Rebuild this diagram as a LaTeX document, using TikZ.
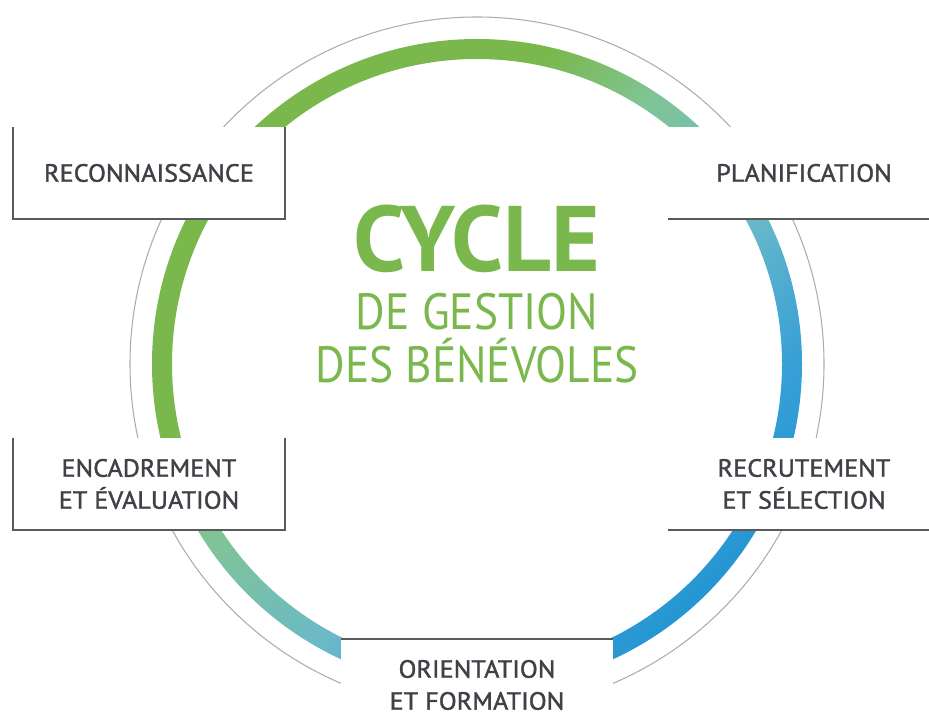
\documentclass[tikz,border=0pt]{standalone}
\usepackage{fontspec}
\setmainfont{PT Sans}
\newfontfamily\subtitlefont[FakeStretch=0.89]{PT Sans}
\newfontfamily\stagefont[FakeStretch=1.05, FakeBold=1.5]{PT Sans}
\definecolor{cyclegreen}{RGB}{122,184,77}
\definecolor{ringmint}{RGB}{128,196,150}
\definecolor{ringteal}{RGB}{106,185,200}
\definecolor{ringblue}{RGB}{56,160,214}
\definecolor{ringdeep}{RGB}{37,150,210}
\definecolor{stagetext}{RGB}{64,64,70}
\definecolor{stageline}{RGB}{90,90,90}
\pgfdeclarehorizontalshading{ringshade}{100bp}{color(0bp)=(cyclegreen); color(37bp)=(cyclegreen); color(45bp)=(ringmint); color(57bp)=(ringteal); color(67bp)=(ringblue); color(75bp)=(ringdeep); color(100bp)=(ringdeep)}
\begin{document}
\begin{tikzpicture}[x=0.02cm, y=0.02cm,
    stage/.style={fill=white, minimum width=5.44cm, minimum height=1.84cm,
      inner sep=0pt, outer sep=0pt, align=center, text=stagetext,
      font=\stagefont\fontsize{14.2}{18.2}\selectfont},
    stageedge/.style={draw=stageline, line width=1.1pt},
    title/.style={anchor=base, text=cyclegreen, inner sep=0pt}]
  \clip (0,0) rectangle (929,727);
  \coordinate (c) at (477,363);
  \draw[gray!65, line width=0.6pt] (c) circle (347);
  \shade[shading=ringshade, shading angle=-45, even odd rule] (c) circle (325) (c) circle (305);

  \node[title, font=\fontsize{53}{53}\selectfont\bfseries] (cycle) at (477,455) {CYCLE};
  \node[title, font=\subtitlefont\fontsize{29}{29}\selectfont] (gestion) at (477,397) {DE GESTION};
  \node[title, font=\subtitlefont\fontsize{29}{29}\selectfont] (benevoles) at (477,344) {DES BÉNÉVOLES};

  \node[stage] (recon) at (149,554) {RECONNAISSANCE};
  \node[stage] (plan) at (804,554) {PLANIFICATION};
  \node[stage] (recru) at (804,243) {RECRUTEMENT\\ET SÉLECTION};
  \node[stage] (orient) at (477,42) {ORIENTATION\\ET FORMATION};
  \node[stage] (encad) at (149,243) {ENCADREMENT\\ET ÉVALUATION};

  \draw[stageedge] (recon.north west) -- (recon.south west) -- (recon.south east) -- (recon.north east);
  \draw[stageedge] (encad.north west) -- (encad.south west) -- (encad.south east) -- (encad.north east);
  \draw[stageedge] (plan.south west) -- (plan.south east);
  \draw[stageedge] (recru.south west) -- (recru.south east);
  \draw[stageedge] (orient.north west) -- (orient.north east);
\end{tikzpicture}
\end{document}
